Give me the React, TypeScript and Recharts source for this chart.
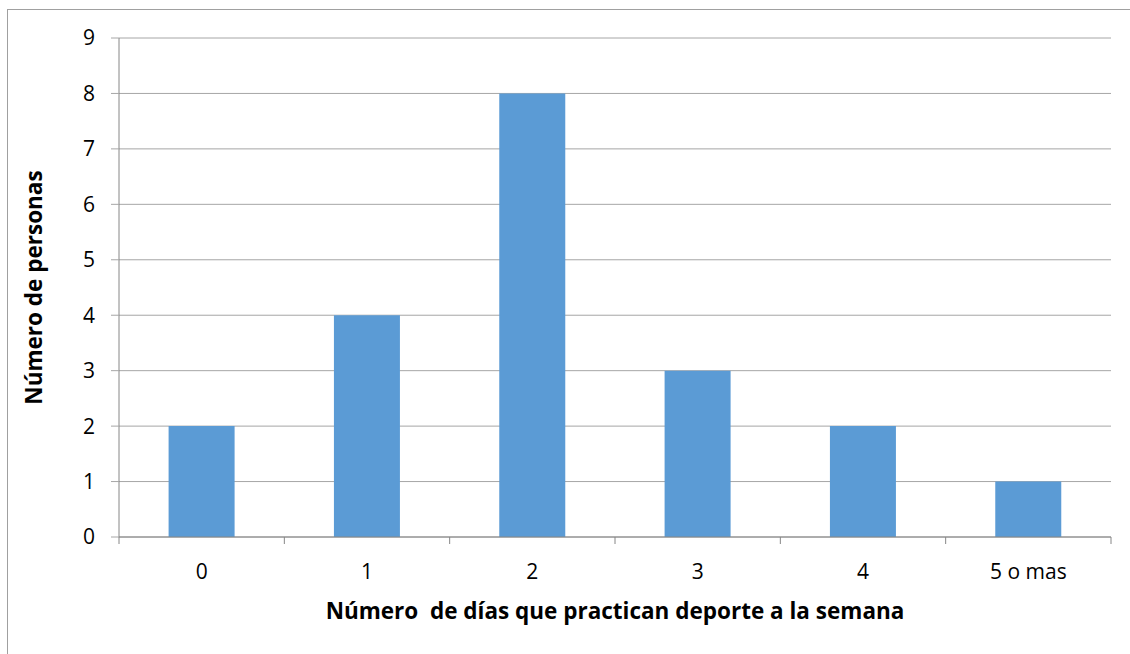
import React from 'react';
import { BarChart, Bar, XAxis, YAxis, CartesianGrid, Label } from 'recharts';

const categories = ['0', '1', '2', '3', '4', '5 o mas'];
const personas = [2, 4, 8, 3, 2, 1];
const yTicks = [0, 1, 2, 3, 4, 5, 6, 7, 8, 9];

const data = categories.map((name, i) => ({ name, value: personas[i] }));

const FONT = '"Open Sans", Lato, sans-serif';
const GRID = '#a6a6a6';
const AXIS = '#868686';

// Excel style: tick marks sit between the categories, label in the middle
const CategoryTick = (props: any) => {
    const { x, y, payload, index, width, visibleTicksCount } = props;
    const bw = width / visibleTicksCount;
    return (
        <g>
            <line x1={x - bw / 2} x2={x - bw / 2} y1={y} y2={y + 7} stroke={AXIS} />
            {index === visibleTicksCount - 1 && (
                <line x1={x + bw / 2} x2={x + bw / 2} y1={y} y2={y + 7} stroke={AXIS} />
            )}
            <text x={x} y={y + 42} textAnchor="middle" fontFamily={FONT} fontSize={21} fill="#000">
                {payload.value}
            </text>
        </g>
    );
};

export default function App() {
    return (
        <div style={{ position: 'absolute', left: 0, top: 0, width: 1130, height: 654, background: '#fff', overflow: 'hidden' }}>
            <div style={{ position: 'absolute', left: 7, top: 9, width: 1140, height: 660, border: '1px solid #a0a0a0' }} />
            <BarChart
                width={1130}
                height={654}
                data={data}
                margin={{ top: 38, right: 19, left: 0, bottom: 0 }}
                barCategoryGap="30%"
            >
                <CartesianGrid horizontal vertical={false} stroke={GRID} />
                <XAxis
                    dataKey="name"
                    height={117}
                    tickLine={false}
                    tickSize={0}
                    tickMargin={0}
                    axisLine={{ stroke: AXIS }}
                    interval={0}
                    tick={<CategoryTick />}
                >
                    <Label
                        content={({ viewBox }: any) => (
                            <text
                                x={viewBox.x + viewBox.width / 2}
                                y={viewBox.y + 82}
                                textAnchor="middle"
                                fontFamily={FONT}
                                fontWeight="bold"
                                fontSize={22.5}
                                fill="#000"
                                style={{ whiteSpace: 'pre' }}
                            >
                                Número  de días que practican deporte a la semana
                            </text>
                        )}
                    />
                </XAxis>
                <YAxis
                    width={119}
                    domain={[0, 9]}
                    ticks={yTicks}
                    interval={0}
                    tickSize={8}
                    tickMargin={16}
                    tickLine={{ stroke: GRID }}
                    axisLine={{ stroke: AXIS }}
                    tick={{ fontFamily: FONT, fontSize: 21, fill: '#000' }}
                >
                    <Label
                        content={({ viewBox }: any) => {
                            const cx = viewBox.x + 33;
                            const cy = viewBox.y + viewBox.height / 2;
                            return (
                                <text
                                    x={cx}
                                    y={cy}
                                    transform={`rotate(-90 ${cx} ${cy})`}
                                    textAnchor="middle"
                                    dominantBaseline="central"
                                    fontFamily={FONT}
                                    fontWeight="bold"
                                    fontSize={22.5}
                                    fill="#000"
                                >
                                    Número de personas
                                </text>
                            );
                        }}
                    />
                </YAxis>
                <Bar dataKey="value" fill="#5b9bd5" isAnimationActive={false} />
            </BarChart>
        </div>
    );
}
